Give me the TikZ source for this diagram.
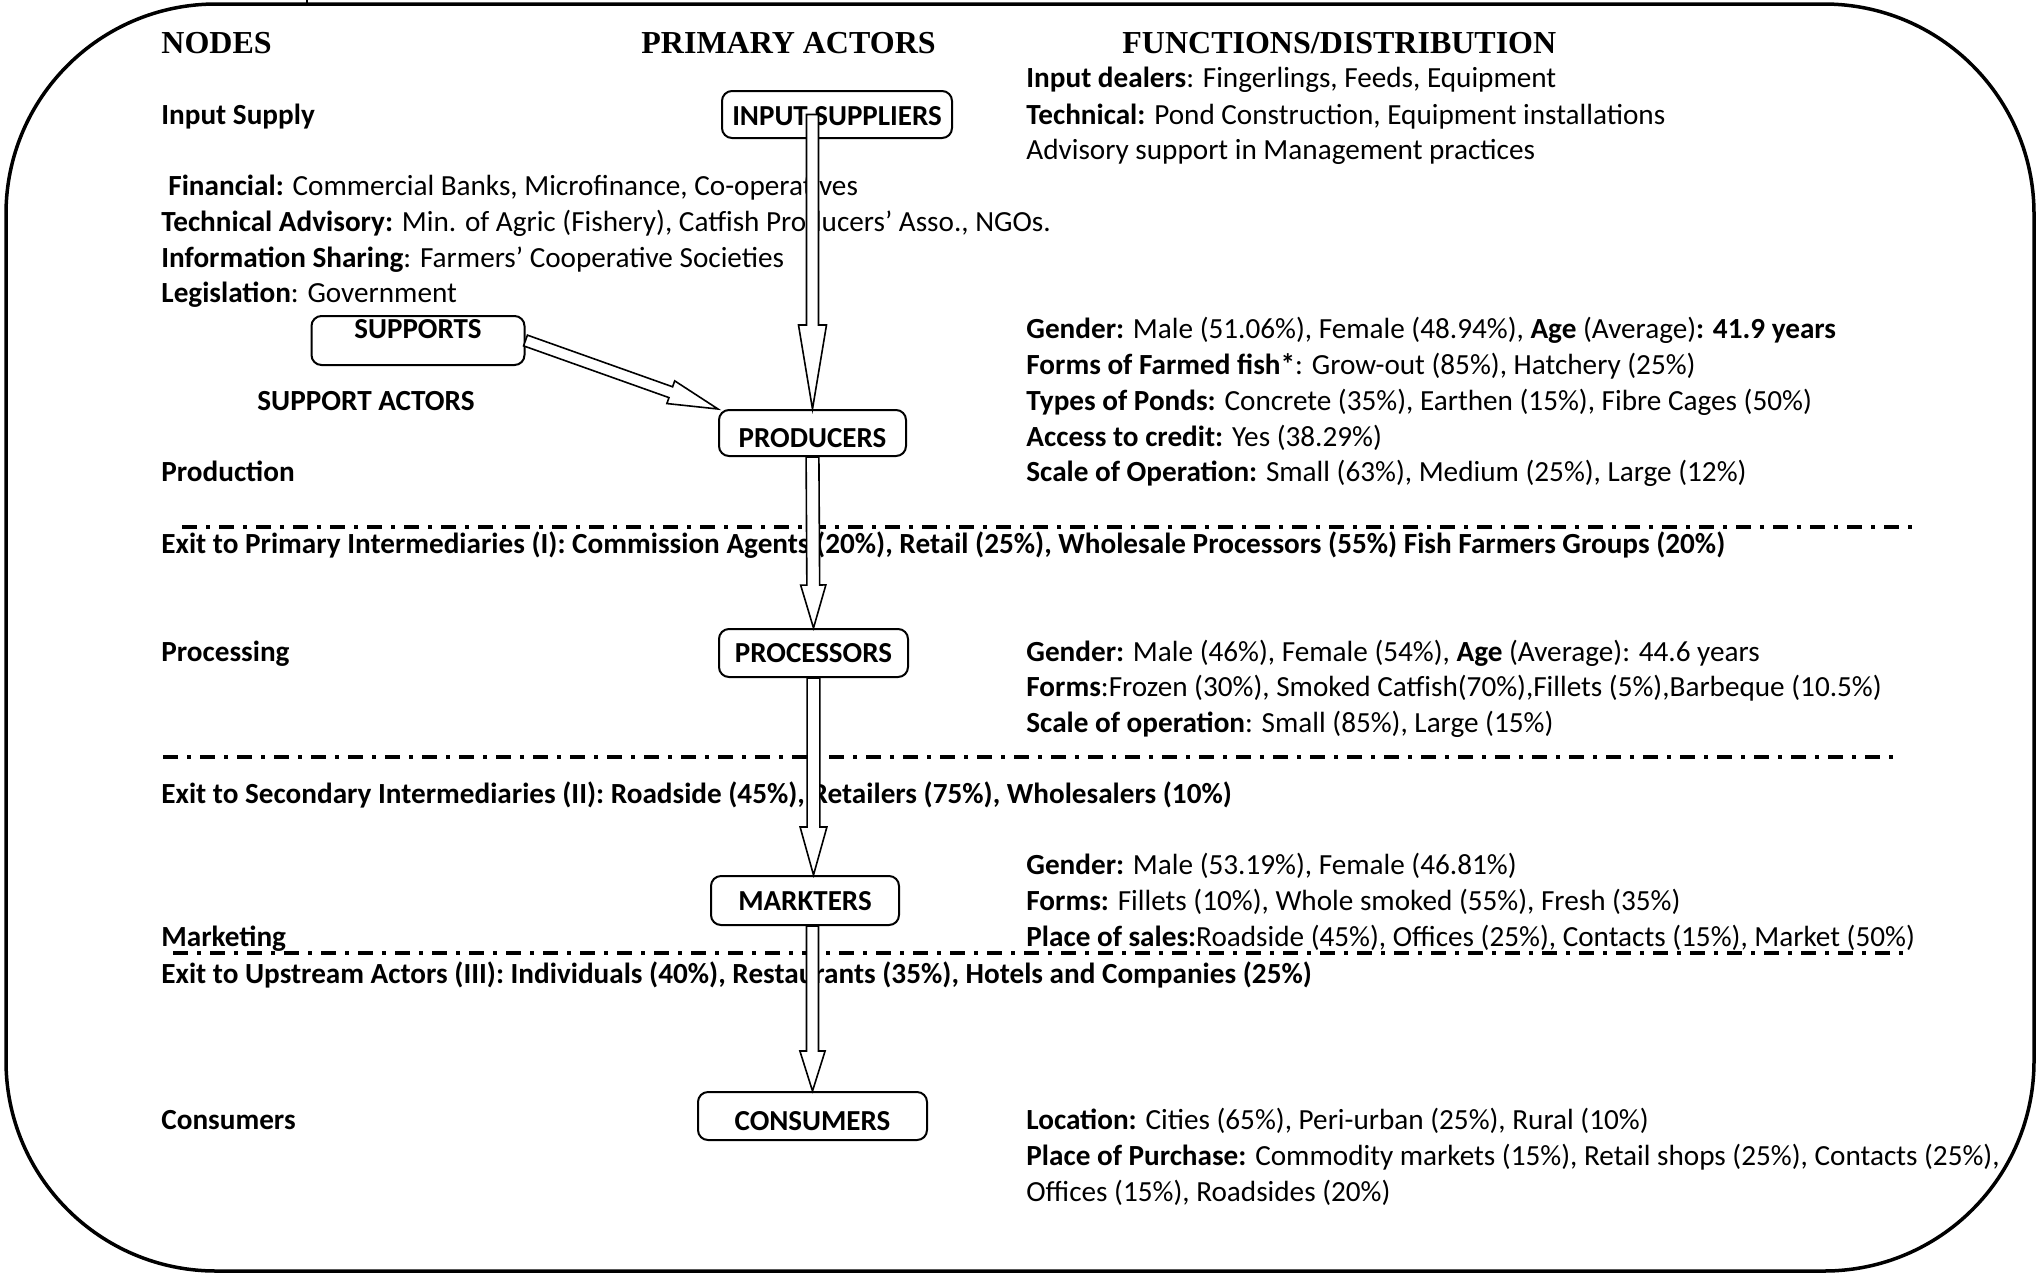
\documentclass[tikz,border=0pt]{standalone}
\usepackage{fontspec}
\setmainfont{Carlito}
\newfontfamily\hdrfont{Liberation Serif}
\usetikzlibrary{calc}

% block (hollow) arrow: start, end, shaft half-width, head half-width, head length
\newcommand{\blockarr}[5]{%
  \draw[blockarrow] let \p1=(#1), \p2=(#2),
    \n1={atan2(\y2-\y1,\x2-\x1)},
    \n2={veclen(\x2-\x1,\y2-\y1)-#5},
    \n3={#4-#3} in
    ($(\p1)+(\n1+90:#3)$) -- ++(\n1:\n2) -- ++(\n1+90:\n3) -- (\p2)
    -- ($(\p2)+(\n1+180:#5)+(\n1-90:#4)$) -- ++(\n1+90:\n3)
    -- ($(\p1)+(\n1-90:#3)$) -- cycle;}

\tikzset{
  body/.style={anchor=base west, inner sep=0pt, font=\fontsize{14.6}{17}\selectfont},
  bodyb/.style={body, font=\bfseries\fontsize{14.6}{17}\selectfont},
  hdr/.style={anchor=base west, inner sep=0pt, font=\hdrfont\bfseries\fontsize{16}{19}\selectfont},
  actor/.style={draw, line width=1pt, rounded corners=5pt, inner xsep=0pt, inner ysep=0pt,
    font=\bfseries\fontsize{14.5}{17}\selectfont},
  sepline/.style={line width=2pt, dash pattern=on 7.5pt off 4.5pt on 2pt off 4.5pt},
  blockarrow/.style={draw, fill=white, line width=0.8pt, line join=miter},
  border/.style={line width=1.75pt, rounded corners=105pt}
}

\begin{document}
\begin{tikzpicture}[x=0.5pt, y=-0.5pt]
\useasboundingbox (0,0) rectangle (2039,1275);

% outer frame
\draw[border] (6,4) rectangle (2034,1271);
\draw[line width=1pt] (307,0) -- (307,4);

% headers
\node[hdr] (hnodes) at (161,53) {NODES};
\node[hdr] (hprim) at (641,53) {PRIMARY ACTORS};
\node[hdr] (hfunc) at (1122,53) {FUNCTIONS/DISTRIBUTION};

% left column
\node[bodyb] (lin) at (161,124.5) {Input Supply};
\node[body] (s1) at (168,195.5) {\textbf{Financial:} Commercial Banks, Microfinance, Co-operatives};
\node[body] (s2) at (161,231) {\textbf{Technical Advisory:} Min. of Agric (Fishery), Catfish Producers’ Asso., NGOs.};
\node[body] (s3) at (161,267) {\textbf{Information Sharing}: Farmers’ Cooperative Societies};
\node[body] (s4) at (161,302.5) {\textbf{Legislation}: Government};
\node[bodyb] (sact) at (257,410.5) {SUPPORT ACTORS};
\node[bodyb] (lprod) at (161,481) {Production};
\node[bodyb] (ex1) at (161,553.5) {Exit to Primary Intermediaries (I): Commission Agents (20\%), Retail (25\%), Wholesale Processors (55\%) Fish Farmers Groups (20\%)};
\node[bodyb] (lproc) at (161,661.5) {Processing};
\node[bodyb] (ex2) at (161,803.5) {Exit to Secondary Intermediaries (II): Roadside (45\%), Retailers (75\%), Wholesalers (10\%)};
\node[bodyb] (lmark) at (161,946) {Marketing};
\node[bodyb] (ex3) at (161,983) {Exit to Upstream Actors (III): Individuals (40\%), Restaurants (35\%), Hotels and Companies (25\%)};
\node[bodyb] (lcons) at (161,1129.5) {Consumers};

% right column
\node[body] (r1) at (1026,87.5) {\textbf{Input dealers}: Fingerlings, Feeds, Equipment};
\node[body] (r2) at (1026,124) {\textbf{Technical:} Pond Construction, Equipment installations};
\node[body] (r3) at (1026,159.5) {Advisory support in Management practices};

\node[body] (p1) at (1026,338.5) {\textbf{Gender:} Male (51.06\%), Female (48.94\%), \textbf{Age} (Average)\textbf{: 41.9 years}};
\node[body] (p2) at (1026,374.5) {\textbf{Forms of Farmed fish*}: Grow-out (85\%), Hatchery (25\%)};
\node[body] (p3) at (1026,410) {\textbf{Types of Ponds:} Concrete (35\%), Earthen (15\%), Fibre Cages (50\%)};
\node[body] (p4) at (1026,446) {\textbf{Access to credit:} Yes (38.29\%)};
\node[body] (p5) at (1026,481.5) {\textbf{Scale of Operation:} Small (63\%), Medium (25\%), Large (12\%)};

\node[body] (q1) at (1026,661.5) {\textbf{Gender:} Male (46\%), Female (54\%), \textbf{Age} (Average): 44.6 years};
\node[body] (q2) at (1026,696.5) {\textbf{Forms}:Frozen (30\%), Smoked Catfish(70\%),Fillets (5\%),Barbeque (10.5\%)};
\node[body] (q3) at (1026,732.5) {\textbf{Scale of operation}: Small (85\%), Large (15\%)};

\node[body] (m1) at (1026,874.5) {\textbf{Gender:} Male (53.19\%), Female (46.81\%)};
\node[body] (m2) at (1026,910.5) {\textbf{Forms:} Fillets (10\%), Whole smoked (55\%), Fresh (35\%)};
\node[body] (m3) at (1026,946) {\textbf{Place of sales:}Roadside (45\%), Offices (25\%), Contacts (15\%), Market (50\%)};

\node[body] (c1) at (1026,1129.5) {\textbf{Location:} Cities (65\%), Peri-urban (25\%), Rural (10\%)};
\node[body] (c2) at (1026,1165.5) {\textbf{Place of Purchase:} Commodity markets (15\%), Retail shops (25\%), Contacts (25\%),};
\node[body] (c3) at (1026,1201) {Offices (15\%), Roadsides (20\%)};

% separators
\draw[sepline] (182,527) -- (1916,527);
\draw[sepline] (163,757) -- (1896,757);
\draw[sepline] (173,953) -- (1910,953);

% actor boxes
\node[actor, minimum width=115pt, text height=17pt, text depth=6.5pt] (inp) at (837,114.5) {INPUT SUPPLIERS};
\node[actor, minimum width=106.5pt, text height=11pt, text depth=13.5pt] (sup) at (418,340.5) {SUPPORTS};
\node[actor, minimum width=93.5pt, text height=18.8pt, text depth=4.2pt] (prod) at (812.5,433) {PRODUCERS};
\node[actor, minimum width=94.5pt, text height=16.5pt, text depth=7.5pt] (proc) at (813.5,653) {PROCESSORS};
\node[actor, minimum width=94pt, text height=17pt, text depth=7.5pt] (mark) at (805,900.5) {MARKTERS};
\node[actor, minimum width=114.5pt, text height=19pt, text depth=5pt] (cons) at (812.5,1116) {CONSUMERS};

% block arrows
\blockarr{prod.north |- inp.center}{prod.north}{3pt}{7pt}{42pt}
\blockarr{sup.east}{prod.north west}{2.85pt}{6pt}{25pt}
\blockarr{prod.south}{proc.north}{3.2pt}{6.3pt}{21.5pt}
\blockarr{proc.south}{proc.south |- mark.north}{3.2pt}{6.7pt}{24pt}
\blockarr{cons.north |- mark.south}{cons.north}{3pt}{6.3pt}{20pt}
\end{tikzpicture}
\end{document}
